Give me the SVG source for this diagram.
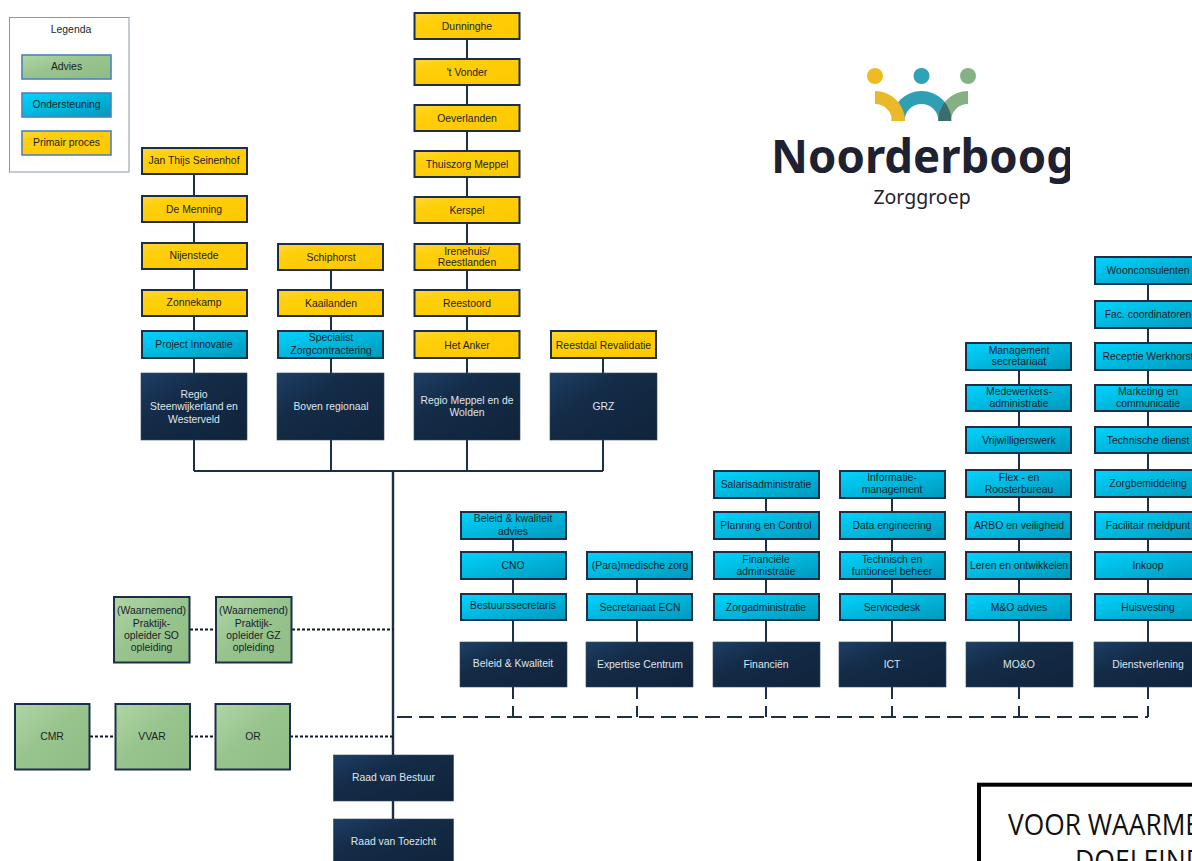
<svg xmlns="http://www.w3.org/2000/svg" width="1192" height="861" viewBox="0 0 1192 861">
<style>
text{font-family:"Liberation Sans",Arial,sans-serif;font-size:10.4px;text-anchor:middle;fill:#1a1f2a}
.w text{fill:#dfe5ec}
.y,.b,.g{stroke:#1d2f48;stroke-width:2}
.y{fill:url(#gy)}.b{fill:url(#gb)}.g{fill:url(#gg)}
.n{fill:url(#gn);stroke:#33475f;stroke-width:.6}
.l{fill:none;stroke:#1b2f4b;stroke-width:2}
.dot{fill:none;stroke:#0d1828;stroke-width:2;stroke-dasharray:3 2}
.dash{fill:none;stroke:#1b2f4b;stroke-width:2;stroke-dasharray:15 7}
.lg{stroke:#4f81bd;stroke-width:1.6}
</style>
<defs>
<linearGradient id="gy" x1="0" y1="0" x2="1" y2="1"><stop offset="0" stop-color="#ffd83a"/><stop offset=".25" stop-color="#ffcf0a"/><stop offset="1" stop-color="#fdc800"/></linearGradient>
<linearGradient id="gb" x1="0" y1="0" x2="1" y2="1"><stop offset="0" stop-color="#00d4ff"/><stop offset=".5" stop-color="#00b6dc"/><stop offset="1" stop-color="#0098bb"/></linearGradient>
<linearGradient id="gg" x1="0" y1="0" x2="1" y2="1"><stop offset="0" stop-color="#b0d6a6"/><stop offset=".45" stop-color="#98c48e"/><stop offset="1" stop-color="#8fbd85"/></linearGradient>
<linearGradient id="gn" x1="0" y1="0" x2="1" y2="1"><stop offset="0" stop-color="#1d3f66"/><stop offset=".35" stop-color="#142c48"/><stop offset="1" stop-color="#10233a"/></linearGradient>
<clipPath id="logoclip"><rect x="760" y="50" width="310" height="170"/></clipPath>
<clipPath id="greenarc"><path d="M968 91A30 30 0 0 0 938 121H951A17 17 0 0 1 968 104Z"/></clipPath>
</defs>
<g id="connectors">
<path class="l" d="M194 160V471M331 257V471M467 26V471M603 345V471M194 471H603"/>
<path class="l" d="M393 471V755M393 801V819" style="stroke-width:2.4"/>
<path class="l" d="M513 525V642M637 565V642M766 484V642M892 484V642M1019 356V642M1148 270V642"/>
<path class="dash" d="M397 717H1148"/>
<path class="l" d="M513 687V699M513 706V717M637 687V699M637 706V717M766 687V699M766 706V717M892 687V699M892 706V717M1019 687V699M1019 706V717M1148 687V699M1148 706V717"/>
<path class="dot" d="M190 629.500H216M292 629.500H393M90 736.500H115M190 736.500H215M290 736.500H393"/>
</g>
<g id="legenda">
<rect x="9.500" y="17.500" width="119.500" height="154.500" fill="#fff" stroke="#8a97a6" stroke-width="1"/>
<text x="71" y="33">Legenda</text>
<rect class="g lg" x="22" y="55" width="89" height="24"/><text x="66.500" y="70">Advies</text>
<rect class="b lg" x="22" y="93" width="89" height="24"/><text x="66.500" y="108">Ondersteuning</text>
<rect class="y lg" x="22" y="131" width="89" height="24"/><text x="66.500" y="146">Primair proces</text>
</g>
<g id="n-jan"><rect class="y" x="142" y="148" width="105" height="26"/><text x="194" y="164">Jan Thijs Seinenhof</text></g>
<g id="n-menning"><rect class="y" x="142" y="196" width="105" height="26"/><text x="194" y="213">De Menning</text></g>
<g id="n-nijenstede"><rect class="y" x="142" y="243" width="105" height="26"/><text x="194" y="259">Nijenstede</text></g>
<g id="n-zonnekamp"><rect class="y" x="142" y="290" width="105" height="26"/><text x="194" y="306">Zonnekamp</text></g>
<g id="n-project"><rect class="b" x="142" y="331" width="105" height="27"/><text x="194" y="348">Project Innovatie</text></g>
<g id="n-regio1" class="w"><rect class="n" x="141" y="373" width="106" height="67"/><text x="194" y="398">Regio</text><text x="194" y="410">Steenwijkerland en</text><text x="194" y="423">Westerveld</text></g>
<g id="n-schiphorst"><rect class="y" x="278" y="244" width="105" height="26"/><text x="331" y="261">Schiphorst</text></g>
<g id="n-kaailanden"><rect class="y" x="278" y="290" width="105" height="26"/><text x="331" y="307">Kaailanden</text></g>
<g id="n-specialist"><rect class="b" x="278" y="331" width="105" height="27"/><text x="331" y="341">Specialist</text><text x="331" y="354">Zorgcontractering</text></g>
<g id="n-boven" class="w"><rect class="n" x="277" y="373" width="107" height="67"/><text x="331" y="410">Boven regionaal</text></g>
<g id="n-dunninghe"><rect class="y" x="414.500" y="13" width="105" height="26"/><text x="467" y="30">Dunninghe</text></g>
<g id="n-vonder"><rect class="y" x="414.500" y="59" width="105" height="26"/><text x="467" y="76">'t Vonder</text></g>
<g id="n-oeverlanden"><rect class="y" x="414.500" y="105" width="105" height="26"/><text x="467" y="122">Oeverlanden</text></g>
<g id="n-thuiszorg"><rect class="y" x="414.500" y="151" width="105" height="26"/><text x="467" y="168">Thuiszorg Meppel</text></g>
<g id="n-kerspel"><rect class="y" x="414.500" y="197" width="105" height="26"/><text x="467" y="214">Kerspel</text></g>
<g id="n-irenehuis"><rect class="y" x="414.500" y="244" width="105" height="26"/><text x="467" y="255">Irenehuis/</text><text x="467" y="266">Reestlanden</text></g>
<g id="n-reestoord"><rect class="y" x="414.500" y="290" width="105" height="26"/><text x="467" y="307">Reestoord</text></g>
<g id="n-anker"><rect class="y" x="414.500" y="331" width="105" height="27"/><text x="467" y="349">Het Anker</text></g>
<g id="n-regio2" class="w"><rect class="n" x="414" y="373" width="106" height="67"/><text x="467" y="404">Regio Meppel en de</text><text x="467" y="416">Wolden</text></g>
<g id="n-reestdal"><rect class="y" x="551" y="331" width="105" height="27"/><text x="603.500" y="349">Reestdal Revalidatie</text></g>
<g id="n-grz" class="w"><rect class="n" x="550" y="373" width="107" height="67"/><text x="603.500" y="410">GRZ</text></g>
<g id="n-bk1"><rect class="b" x="461" y="512" width="105" height="27"/><text x="513" y="522">Beleid &amp; kwaliteit</text><text x="513" y="535">advies</text></g>
<g id="n-cno"><rect class="b" x="461" y="552" width="105" height="27"/><text x="513" y="569">CNO</text></g>
<g id="n-bestuurssecr"><rect class="b" x="461" y="594" width="105" height="26"/><text x="513" y="609">Bestuurssecretaris</text></g>
<g id="n-bk2" class="w"><rect class="n" x="460" y="642" width="107" height="45"/><text x="513" y="667">Beleid &amp; Kwaliteit</text></g>
<g id="n-para"><rect class="b" x="587" y="552" width="105" height="27"/><text x="640" y="569">(Para)medische zorg</text></g>
<g id="n-ecn"><rect class="b" x="587" y="594" width="105" height="26"/><text x="640" y="611">Secretariaat ECN</text></g>
<g id="n-expertise" class="w"><rect class="n" x="586" y="642" width="107" height="45"/><text x="640" y="668">Expertise Centrum</text></g>
<g id="n-salaris"><rect class="b" x="714" y="471" width="105" height="27"/><text x="766" y="488">Salarisadministratie</text></g>
<g id="n-planning"><rect class="b" x="714" y="512" width="105" height="27"/><text x="766" y="529">Planning en Control</text></g>
<g id="n-finadm"><rect class="b" x="714" y="552" width="105" height="27"/><text x="766" y="563">Financiële</text><text x="766" y="575">administratie</text></g>
<g id="n-zorgadm"><rect class="b" x="714" y="594" width="105" height="26"/><text x="766" y="611">Zorgadministratie</text></g>
<g id="n-financien" class="w"><rect class="n" x="713" y="642" width="107" height="45"/><text x="766" y="668">Financiën</text></g>
<g id="n-infomgmt"><rect class="b" x="840" y="471" width="105" height="27"/><text x="892" y="481">Informatie-</text><text x="892" y="493">management</text></g>
<g id="n-data"><rect class="b" x="840" y="512" width="105" height="27"/><text x="892" y="529">Data engineering</text></g>
<g id="n-technisch"><rect class="b" x="840" y="552" width="105" height="27"/><text x="892" y="563">Technisch en</text><text x="892" y="575">funtioneel beheer</text></g>
<g id="n-servicedesk"><rect class="b" x="840" y="594" width="105" height="26"/><text x="892" y="611">Servicedesk</text></g>
<g id="n-ict" class="w"><rect class="n" x="839" y="642" width="107" height="45"/><text x="892" y="668">ICT</text></g>
<g id="n-mgmtsecr"><rect class="b" x="966" y="343" width="105" height="27"/><text x="1019" y="354">Management</text><text x="1019" y="365">secretariaat</text></g>
<g id="n-medewerkers"><rect class="b" x="966" y="385" width="105" height="26"/><text x="1019" y="395">Medewerkers-</text><text x="1019" y="407">administratie</text></g>
<g id="n-vrijw"><rect class="b" x="966" y="427" width="105" height="26"/><text x="1019" y="444">Vrijwilligerswerk</text></g>
<g id="n-flex"><rect class="b" x="966" y="470" width="105" height="27"/><text x="1019" y="481">Flex - en</text><text x="1019" y="493">Roosterbureau</text></g>
<g id="n-arbo"><rect class="b" x="966" y="512" width="105" height="27"/><text x="1019" y="529">ARBO en veiligheid</text></g>
<g id="n-leren"><rect class="b" x="966" y="552" width="105" height="27"/><text x="1019" y="569">Leren en ontwikkelen</text></g>
<g id="n-moadvies"><rect class="b" x="966" y="594" width="105" height="26"/><text x="1019" y="611">M&amp;O advies</text></g>
<g id="n-moo" class="w"><rect class="n" x="966" y="642" width="107" height="45"/><text x="1019" y="668">MO&amp;O</text></g>
<g id="n-woon"><rect class="b" x="1095" y="257" width="105" height="27"/><text x="1148" y="274">Woonconsulenten</text></g>
<g id="n-fac"><rect class="b" x="1095" y="301" width="105" height="27"/><text x="1148" y="318">Fac. coordinatoren</text></g>
<g id="n-receptie"><rect class="b" x="1095" y="343" width="105" height="27"/><text x="1148" y="360">Receptie Werkhorst</text></g>
<g id="n-marketing"><rect class="b" x="1095" y="385" width="105" height="26"/><text x="1148" y="395">Marketing en</text><text x="1148" y="407">communicatie</text></g>
<g id="n-techdienst"><rect class="b" x="1095" y="427" width="105" height="26"/><text x="1148" y="444">Technische dienst</text></g>
<g id="n-zorgbem"><rect class="b" x="1095" y="470" width="105" height="27"/><text x="1148" y="487">Zorgbemiddeling</text></g>
<g id="n-facmeld"><rect class="b" x="1095" y="512" width="105" height="27"/><text x="1148" y="529">Facilitair meldpunt</text></g>
<g id="n-inkoop"><rect class="b" x="1095" y="552" width="105" height="27"/><text x="1148" y="569">Inkoop</text></g>
<g id="n-huisvesting"><rect class="b" x="1095" y="594" width="105" height="26"/><text x="1148" y="611">Huisvesting</text></g>
<g id="n-dienst" class="w"><rect class="n" x="1094" y="642" width="107" height="45"/><text x="1148" y="668">Dienstverlening</text></g>
<g id="n-wn1"><rect class="g" x="114" y="597" width="75.500" height="65.500"/><text x="151.500" y="614">(Waarnemend)</text><text x="151.500" y="627">Praktijk-</text><text x="151.500" y="639">opleider SO</text><text x="151.500" y="651">opleiding</text></g>
<g id="n-wn2"><rect class="g" x="216" y="597" width="75.500" height="65.500"/><text x="253.500" y="614">(Waarnemend)</text><text x="253.500" y="627">Praktijk-</text><text x="253.500" y="639">opleider GZ</text><text x="253.500" y="651">opleiding</text></g>
<g id="n-cmr"><rect class="g" x="15" y="704" width="74.500" height="65.500"/><text x="52" y="740">CMR</text></g>
<g id="n-vvar"><rect class="g" x="115.500" y="704" width="74.500" height="65.500"/><text x="152" y="740">VVAR</text></g>
<g id="n-or"><rect class="g" x="215.500" y="704" width="74.500" height="65.500"/><text x="253" y="740">OR</text></g>
<g id="n-rvb" class="w"><rect class="n" x="333.500" y="755" width="120" height="46"/><text x="393.500" y="781">Raad van Bestuur</text></g>
<g id="n-rvt" class="w"><rect class="n" x="333.500" y="819" width="120" height="46"/><text x="393.500" y="845">Raad van Toezicht</text></g>
<g id="logo" clip-path="url(#logoclip)">
<circle cx="875" cy="76" r="8" fill="#eebb22"/><circle cx="921.500" cy="76" r="8" fill="#2fa3b5"/><circle cx="968" cy="76" r="8" fill="#85b285"/>
<path d="M891.500 121A30 30 0 0 1 951.500 121H938.500A17 17 0 0 0 904.500 121Z" fill="#2fa0b3"/>
<path d="M875 91A30 30 0 0 1 905 121H892A17 17 0 0 0 875 104Z" fill="#e9b92a"/>
<path d="M968 91A30 30 0 0 0 938 121H951A17 17 0 0 1 968 104Z" fill="#85b085"/>
<path clip-path="url(#greenarc)" d="M891.500 121A30 30 0 0 1 951.500 121H938.500A17 17 0 0 0 904.500 121Z" fill="#3a6d70"/>
<text x="771" y="173" textLength="304" lengthAdjust="spacingAndGlyphs" style="font-family:'Noto Sans',sans-serif;font-size:47px;font-weight:700;fill:#1e2130;text-anchor:start">Noorderboog</text>
<text x="922" y="204" style="font-family:'Noto Sans',sans-serif;font-size:19.500px;font-weight:400;fill:#1e2130">Zorggroep</text>
</g>
<g id="note">
<rect x="979" y="784.700" width="240" height="100" fill="#fff" stroke="#000" stroke-width="4"/>
<text x="1008" y="835" textLength="192" lengthAdjust="spacingAndGlyphs" style="font-family:'Open Sans',sans-serif;font-size:29px;fill:#111;text-anchor:start">VOOR WAARME</text>
<text x="1075" y="871" textLength="130" lengthAdjust="spacingAndGlyphs" style="font-family:'Open Sans',sans-serif;font-size:29px;fill:#111;text-anchor:start">DOELEIND</text>
</g>
</svg>
